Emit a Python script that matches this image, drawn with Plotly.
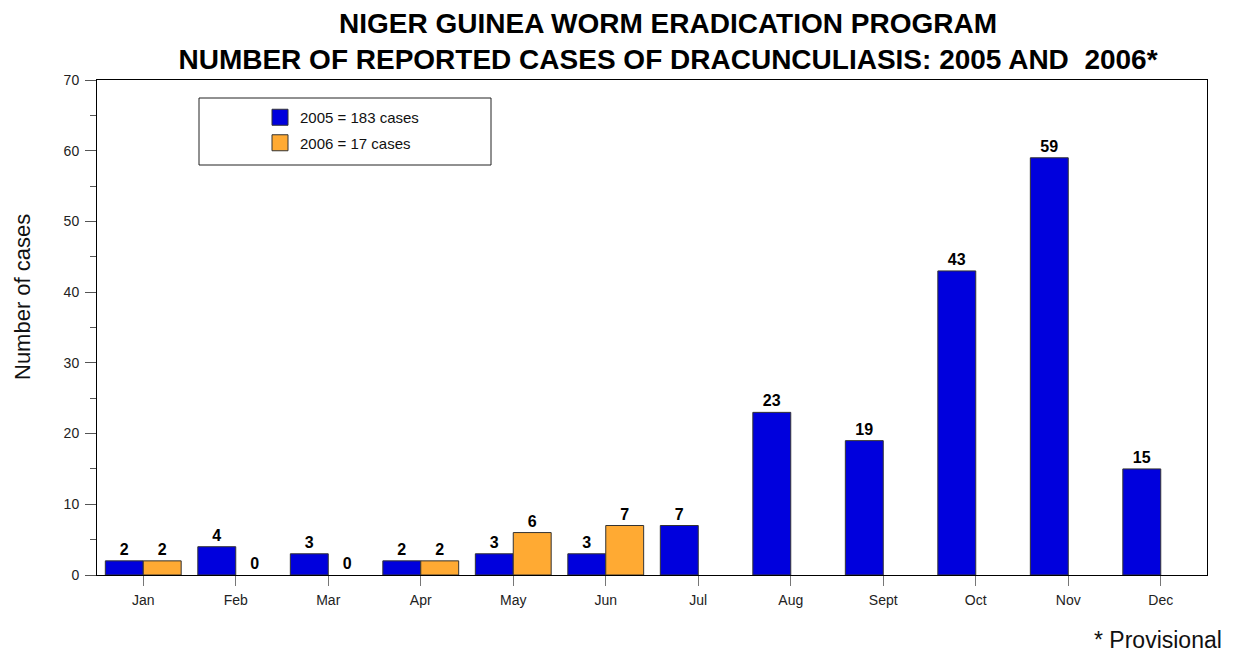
import plotly.graph_objects as go

months = ["Jan", "Feb", "Mar", "Apr", "May", "Jun", "Jul", "Aug", "Sept", "Oct", "Nov", "Dec"]
cases_2005 = [2, 4, 3, 2, 3, 3, 7, 23, 19, 43, 59, 15]
cases_2006 = [2, 0, 0, 2, 6, 7, None, None, None, None, None, None]
name_2005 = "2005 = 183 cases"
name_2006 = "2006 = 17 cases"
y_ticks = [0, 10, 20, 30, 40, 50, 60, 70]

font_family = "Liberation Sans, Arial, sans-serif"
blue = "#0000DD"
orange = "#FFAA33"
edge = "#333333"

# plot-area geometry in page pixels (page has an 8px body offset)
PL, PR, PT, PB = 97, 1207, 80, 575
OFF = 8
W, H = 1242 - OFF, 654 - OFF


def px(x):
    return (x - PL) / (PR - PL)


def py(y):
    return (PB - y) / (PB - PT)


def edge_widths(vals):
    return [1 if (v is not None and v > 0) else 0 for v in vals]


fig = go.Figure()
fig.add_trace(go.Bar(
    x=months, y=cases_2005, name=name_2005, showlegend=False,
    marker=dict(color=blue, line=dict(color=edge, width=edge_widths(cases_2005))),
    text=[str(v) for v in cases_2005], textposition="outside",
    textfont=dict(family=font_family, size=16, color="black", weight="bold"),
    cliponaxis=False,
))
fig.add_trace(go.Bar(
    x=months, y=cases_2006, name=name_2006, showlegend=False,
    marker=dict(color=orange, line=dict(color=edge, width=edge_widths(cases_2006))),
    text=["" if v is None else str(v) for v in cases_2006], textposition="outside",
    textfont=dict(family=font_family, size=16, color="black", weight="bold"),
    cliponaxis=False,
))
# legend entries with larger square swatches
for nm, col, grp in [(name_2005, blue, "a"), (name_2006, orange, "b")]:
    fig.add_trace(go.Scatter(
        x=[None], y=[None], mode="markers", name=nm, legendgroup=grp,
        marker=dict(symbol="square", size=20, color=col, line=dict(color=edge, width=1)),
        hoverinfo="skip",
    ))

fig.update_layout(
    width=W, height=H,
    margin=dict(l=PL - OFF, r=1242 - PR, t=PT - OFF, b=654 - PB),
    paper_bgcolor="white", plot_bgcolor="white",
    font=dict(family=font_family, color="black"),
    barmode="group", bargap=0.18, bargroupgap=0,
    title=dict(
        text="NIGER GUINEA WORM ERADICATION PROGRAM<br>NUMBER OF REPORTED CASES OF DRACUNCULIASIS: 2005 AND  2006*",
        x=(668 - OFF) / W, xanchor="center", xref="container",
        y=1 - (33 - OFF) / H, yanchor="middle", yref="container",
        font=dict(family=font_family, size=28, color="black", weight="bold"),
    ),
    xaxis=dict(
        showline=True, linecolor="black", linewidth=1, mirror=True,
        ticks="outside", ticklen=10, tickcolor="#777777", tickwidth=1,
        tickfont=dict(size=14, color="#222222"), ticklabelstandoff=2,
        showgrid=False,
    ),
    yaxis=dict(
        range=[0, 70], tickvals=y_ticks,
        showline=True, linecolor="black", linewidth=1, mirror=True,
        ticks="outside", ticklen=11, tickcolor="#555555", tickwidth=1,
        tickfont=dict(size=14, color="#222222"), ticklabelstandoff=3,
        minor=dict(dtick=5, ticks="outside", ticklen=6, tickcolor="#555555", showgrid=False),
        showgrid=False, zeroline=False,
    ),
    showlegend=True,
    legend=dict(
        x=px(260), xanchor="left",
        y=py(101), yanchor="top",
        bgcolor="rgba(0,0,0,0)", borderwidth=0,
        font=dict(size=15, color="#111111"),
        itemsizing="trace",
        tracegroupgap=3,
    ),
    shapes=[dict(
        type="rect", xref="paper", yref="paper",
        x0=px(199), x1=px(491), y0=py(165), y1=py(98),
        line=dict(color="#222222", width=1), fillcolor="rgba(0,0,0,0)",
    )],
    annotations=[
        dict(
            text="Number of cases", xref="paper", yref="paper",
            x=px(22), xanchor="center", y=py(297), yanchor="middle",
            textangle=-90, showarrow=False,
            font=dict(size=22, color="#111111"),
        ),
        dict(
            text="* Provisional", xref="paper", yref="paper",
            x=px(1224), xanchor="right",
            y=py(640), yanchor="middle",
            showarrow=False, font=dict(size=23, color="#111111"),
        ),
    ],
)

fig.write_html("out.html")
